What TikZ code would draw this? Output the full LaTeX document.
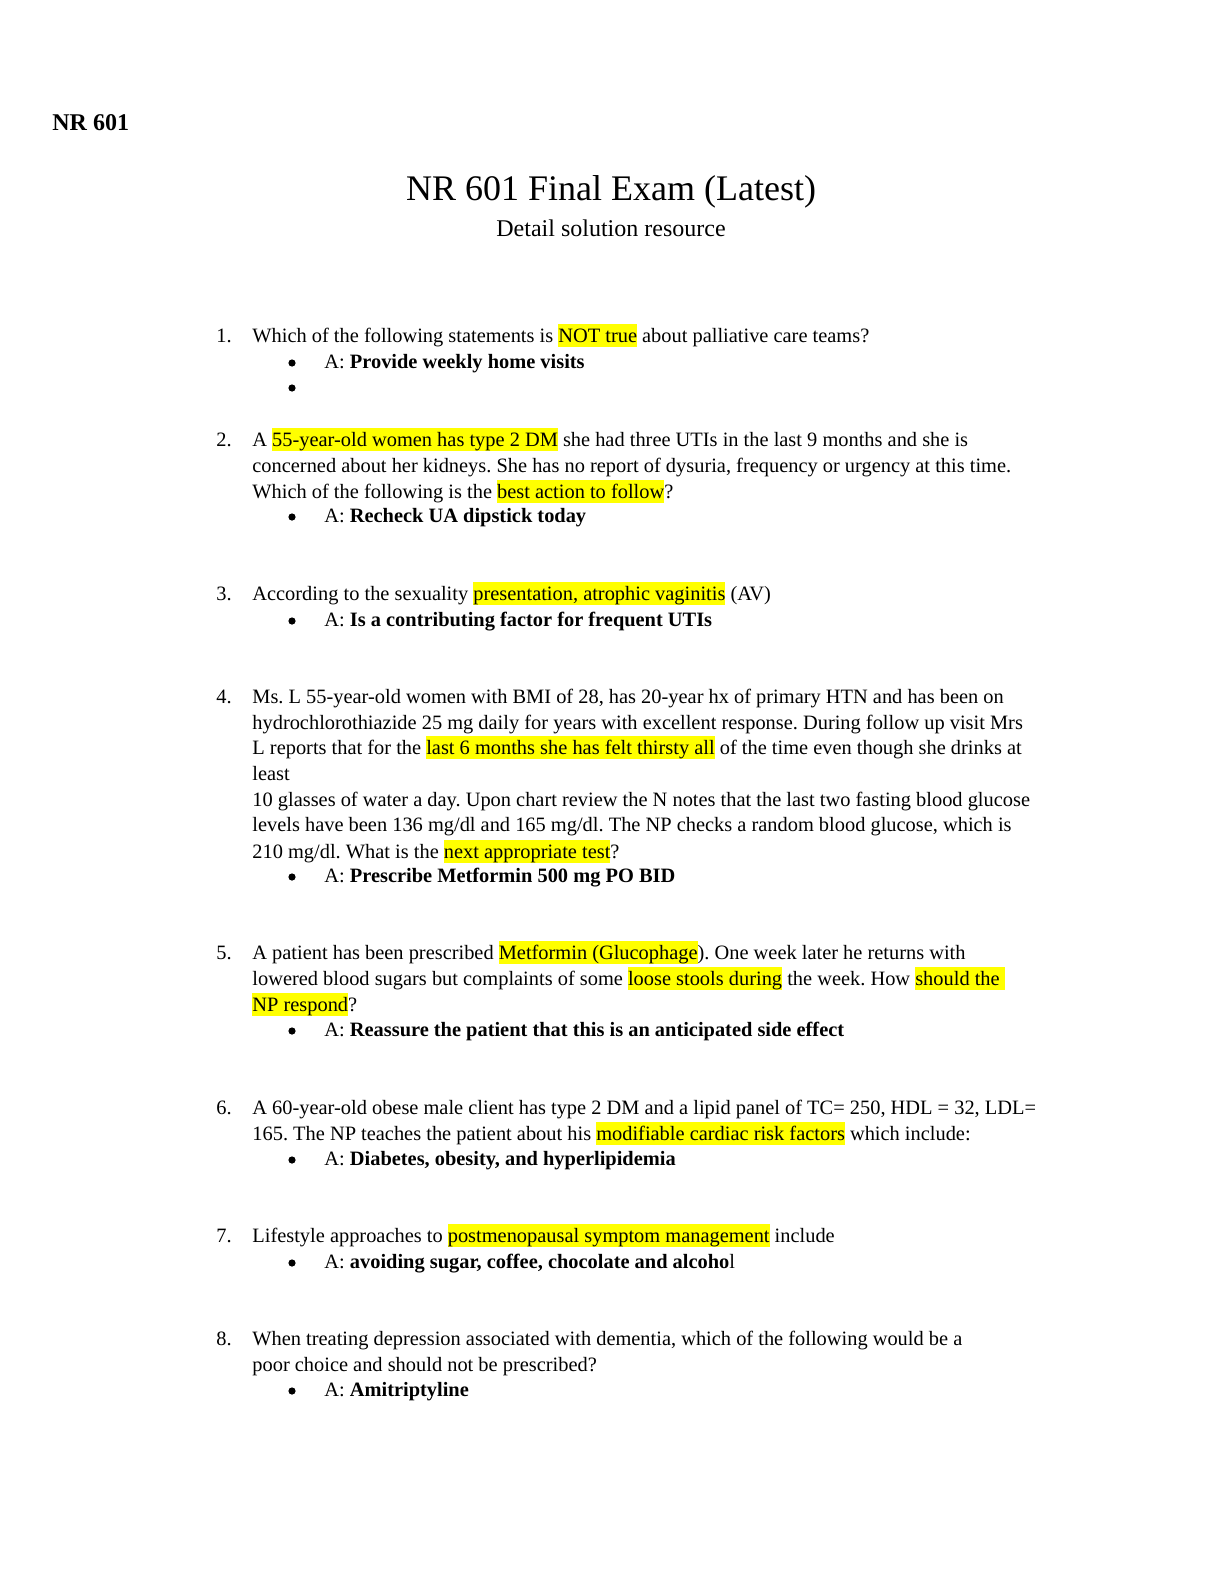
\documentclass[tikz,border=0pt]{standalone}
\usepackage{fontspec}
\setmainfont{Liberation Serif}
\frenchspacing
\definecolor{hlyellow}{RGB}{255,255,0}
\newcommand\hl[1]{\begingroup\setlength{\fboxsep}{0pt}\colorbox{hlyellow}{\rule[-2.6pt]{0pt}{11.7pt}#1}\endgroup}
\newcommand\bodyfont{\fontsize{10.2}{13}\selectfont\frenchspacing}
\tikzset{
  ln/.style={anchor=base west, inner sep=0pt, font=\bodyfont},
  blt/.style={fill=black},
}
\begin{document}
\begin{tikzpicture}[x=0.5pt,y=-0.5pt]
\useasboundingbox[fill=white] (0,0) rectangle (1224,1584);
% header
\node[anchor=base west, inner sep=0pt, font=\fontsize{12}{14}\selectfont\bfseries] (hdr) at (52,131) {NR 601};
\node[anchor=base, inner sep=0pt, font=\fontsize{18}{21}\selectfont] (title) at (611,200) {NR 601 Final Exam (Latest)};
\node[anchor=base, inner sep=0pt, font=\fontsize{12}{14}\selectfont] (sub) at (611,236) {Detail solution resource};
% Q1
\node[ln] (n1) at (216,342) {1.};
\node[ln] (q1a) at (252,342) {Which of the following statements is \hl{NOT true} about palliative care teams?};
\fill[blt] (292,363) circle (3.6);
\node[ln] (q1b) at (324,368) {A: \textbf{Provide weekly home visits}};
\fill[blt] (292,388) circle (3.6);
% Q2
\node[ln] (n2) at (216,446) {2.};
\node[ln] (q2a) at (252,446) {A \hl{55-year-old women has type 2 DM} she had three UTIs in the last 9 months and she is};
\node[ln] (q2b) at (252,472) {concerned about her kidneys. She has no report of dysuria, frequency or urgency at this time.};
\node[ln] (q2c) at (252,498) {Which of the following is the \hl{best action to follow}?};
\fill[blt] (292,517) circle (3.6);
\node[ln] (q2d) at (324,522) {A: \textbf{Recheck UA dipstick today}};
% Q3
\node[ln] (n3) at (216,600) {3.};
\node[ln] (q3a) at (252,600) {According to the sexuality \hl{presentation, atrophic vaginitis} (AV)};
\fill[blt] (292,621) circle (3.6);
\node[ln] (q3b) at (324,626) {A: \textbf{Is a contributing factor for frequent UTIs}};
% Q4
\node[ln] (n4) at (216,703) {4.};
\node[ln] (q4a) at (252,703) {Ms. L 55-year-old women with BMI of 28, has 20-year hx of primary HTN and has been on};
\node[ln] (q4b) at (252,729) {hydrochlorothiazide 25 mg daily for years with excellent response. During follow up visit Mrs};
\node[ln] (q4c) at (252,754) {L reports that for the \hl{last 6 months she has felt thirsty all} of the time even though she drinks at};
\node[ln] (q4d) at (252,780) {least};
\node[ln] (q4e) at (252,806) {10 glasses of water a day. Upon chart review the N notes that the last two fasting blood glucose};
\node[ln] (q4f) at (252,831) {levels have been 136 mg/dl and 165 mg/dl. The NP checks a random blood glucose, which is};
\node[ln] (q4g) at (252,858) {210 mg/dl. What is the \hl{next appropriate test}?};
\fill[blt] (292,877) circle (3.6);
\node[ln] (q4h) at (324,882) {A: \textbf{Prescribe Metformin 500 mg PO BID}};
% Q5
\node[ln] (n5) at (216,959) {5.};
\node[ln] (q5a) at (252,959) {A patient has been prescribed \hl{Metformin (Glucophage}). One week later he returns with};
\node[ln] (q5b) at (252,985) {lowered blood sugars but complaints of some \hl{loose stools during} the week. How \hl{should the }};
\node[ln] (q5c) at (252,1011) {\hl{NP respond}?};
\fill[blt] (292,1031) circle (3.6);
\node[ln] (q5d) at (324,1036) {A: \textbf{Reassure the patient that this is an anticipated side effect}};
% Q6
\node[ln] (n6) at (216,1114) {6.};
\node[ln] (q6a) at (252,1114) {A 60-year-old obese male client has type 2 DM and a lipid panel of TC= 250, HDL = 32, LDL=};
\node[ln] (q6b) at (252,1140) {165. The NP teaches the patient about his \hl{modifiable cardiac risk factors} which include:};
\fill[blt] (292,1160) circle (3.6);
\node[ln] (q6c) at (324,1165) {A: \textbf{Diabetes, obesity, and hyperlipidemia}};
% Q7
\node[ln] (n7) at (216,1242) {7.};
\node[ln] (q7a) at (252,1242) {Lifestyle approaches to \hl{postmenopausal symptom management} include};
\fill[blt] (292,1263) circle (3.6);
\node[ln] (q7b) at (324,1268) {A: \textbf{avoiding sugar, coffee, chocolate and alcoho}l};
% Q8
\node[ln] (n8) at (216,1345) {8.};
\node[ln] (q8a) at (252,1345) {When treating depression associated with dementia, which of the following would be a};
\node[ln] (q8b) at (252,1371) {poor choice and should not be prescribed?};
\fill[blt] (292,1391) circle (3.6);
\node[ln] (q8c) at (324,1396) {A: \textbf{Amitriptyline}};
\end{tikzpicture}
\end{document}
